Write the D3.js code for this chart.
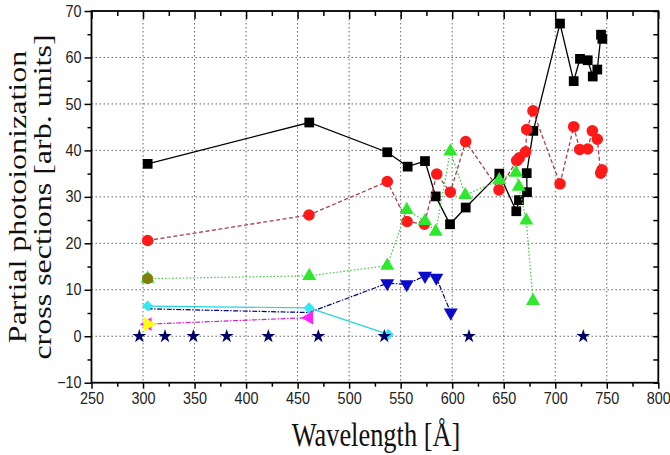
<!DOCTYPE html>
<html>
<head>
<meta charset="utf-8">
<script src="https://cdn.jsdelivr.net/npm/d3@7"></script>
<style>
  body { margin: 0; background: #fff; }
  svg { display: block; }
</style>
</head>
<body>
<svg id="chart" width="670" height="455"></svg>
<script>
// ---- axis ticks ----
const xTicks = [250, 300, 350, 400, 450, 500, 550, 600, 650, 700, 750, 800];
const yTicks = [-10, 0, 10, 20, 30, 40, 50, 60, 70];

// ---- partial cross sections vs wavelength (Å) ----
const blackX = [304.5, 461.3, 537.0, 556.8, 573.6, 584.0, 597.9, 613.1, 645.7, 662.2, 664.8, 672.6, 672.3, 678.7, 704.6, 717.9, 724.0, 731.5, 736.4, 740.8, 744.4, 745.7];
const blackY = [37.1, 46.0, 39.6, 36.5, 37.7, 30.1, 24.1, 27.7, 35.0, 26.9, 29.3, 31.0, 35.1, 44.2, 67.3, 54.9, 59.7, 59.4, 55.9, 57.4, 64.9, 64.0];

const redX = [304.5, 461.1, 537.0, 556.2, 573.0, 585.0, 598.2, 613.1, 645.4, 662.6, 665.1, 671.3, 672.3, 678.4, 704.6, 717.9, 723.7, 731.5, 736.0, 740.8, 744.1, 745.4];
const redY = [20.6, 26.1, 33.3, 24.7, 24.1, 34.9, 31.0, 41.9, 31.5, 37.8, 38.4, 39.7, 44.5, 48.5, 32.8, 45.1, 40.2, 40.3, 44.2, 42.4, 35.1, 35.8];

const greenX = [304.5, 461.3, 537.0, 555.9, 573.6, 584.0, 598.2, 612.7, 645.7, 661.9, 664.6, 671.9, 678.4];
const greenY = [12.4, 13.0, 15.2, 27.2, 24.8, 22.5, 39.8, 30.4, 33.6, 35.2, 32.2, 24.9, 7.6];

const blueX = [304.5, 461.1, 537.0, 555.9, 573.6, 584.6, 598.6];
const blueY = [5.9, 5.1, 11.4, 11.2, 13.0, 12.6, 5.1];

const cyanX = [304.5, 461.1, 538.0];
const cyanY = [6.5, 6.1, 0.4];

const magentaX = [304.5, 461.1];
const magentaY = [2.6, 4.0];

const oliveX = [304.5];
const oliveY = [12.4];

const yellowX = [304.5];
const yellowY = [2.6];

const starX = [296.4, 321.3, 348.8, 381.2, 421.6, 470.1, 534.1, 616.3, 727.2];
const starY = [0, 0, 0, 0, 0, 0, 0, 0, 0];

// ---- layout ----
const svg = d3.select("#chart");
const plot = { left: 91.5, right: 658.3, top: 11, bottom: 382.7 };

const x = d3.scaleLinear().domain([250, 800]).range([plot.left, plot.right]);
const y = d3.scaleLinear().domain([-10, 70]).range([plot.bottom, plot.top]);

const xMinor = d3.range(275, 800, 50);
const yMinor = d3.range(-5, 70, 10);

// dotted grid at interior major ticks
const grid = svg.append("g").attr("stroke", "#666").attr("stroke-width", 1)
  .attr("stroke-dasharray", "1.5,2.5");
grid.selectAll(".gx").data(xTicks.slice(1, -1)).join("line")
  .attr("x1", d => x(d)).attr("x2", d => x(d))
  .attr("y1", plot.top).attr("y2", plot.bottom);
grid.selectAll(".gy").data(yTicks.slice(1, -1)).join("line")
  .attr("y1", d => y(d)).attr("y2", d => y(d))
  .attr("x1", plot.left).attr("x2", plot.right);

// ---- series ----
const sym = (type, size, rot) => ({ path: d3.symbol().type(type).size(size)(), rot: rot || 0 });

const series = [
  { xs: blackX, ys: blackY, stroke: "#000", dash: null, width: 1.3, fill: "#000", marker: sym(d3.symbolSquare, 95) },
  { xs: redX, ys: redY, stroke: "#a8404c", dash: "4,2.5", width: 1.3, fill: "#ff1a1a", marker: sym(d3.symbolCircle, 105) },
  { xs: greenX, ys: greenY, stroke: "#3cc83c", dash: "1.5,2", width: 1.2, fill: "#2ee82e", marker: sym(d3.symbolTriangle, 85) },
  { xs: blueX, ys: blueY, stroke: "#000080", dash: "5,1.5,1.5,1.5", width: 1.2, fill: "#0a0acc", marker: sym(d3.symbolTriangle, 85, 180), skip: [0, 1] },
  { xs: cyanX, ys: cyanY, stroke: "#22d4e0", dash: null, width: 1.2, fill: "#33e8f2", marker: sym(d3.symbolSquare, 62, 45) },
  { xs: magentaX, ys: magentaY, stroke: "#d020d0", dash: "5,1.5,1.5,1.5", width: 1.2, fill: "#ff22ff", marker: sym(d3.symbolTriangle, 80, -90) },
  { xs: starX, ys: starY, stroke: null, fill: "#000066", marker: sym(d3.symbolStar, 60) },
  { xs: oliveX, ys: oliveY, stroke: null, fill: "#7f7f10", marker: sym(d3.symbolCircle, 100) },
  { xs: yellowX, ys: yellowY, stroke: null, fill: "#ffff10", marker: sym(d3.symbolTriangle, 95, 90) }
];

const line = d3.line().x(d => x(d[0])).y(d => y(d[1]));

series.forEach(s => {
  const pts = s.xs.map((v, i) => [v, s.ys[i]]);
  const g = svg.append("g");
  if (s.stroke) {
    g.append("path").datum(pts).attr("d", line)
      .attr("fill", "none").attr("stroke", s.stroke)
      .attr("stroke-width", s.width)
      .attr("stroke-dasharray", s.dash);
  }
  const skip = s.skip || [];
  g.selectAll("path.m").data(pts.filter((p, i) => !skip.includes(i))).join("path")
    .attr("class", "m")
    .attr("d", s.marker.path)
    .attr("transform", d => `translate(${x(d[0])},${y(d[1])}) rotate(${s.marker.rot})`)
    .attr("fill", s.fill);
});

// ---- frame and axes ----
const axisFont = "'Liberation Sans', Arial, sans-serif";

function styleAxis(g) {
  g.select(".domain").remove();
  g.selectAll("line").attr("stroke", "#000").attr("stroke-width", 1.5);
}

const xAxis = svg.append("g").attr("transform", `translate(0,${plot.bottom})`)
  .call(d3.axisBottom(x).tickValues(xTicks).tickSize(6).tickPadding(4).tickFormat(d3.format("d")))
  .call(styleAxis);
xAxis.selectAll("text").attr("font-family", axisFont).attr("font-size", 16)
  .attr("fill", "#222").attr("transform", "scale(0.9,1)");
svg.append("g").attr("transform", `translate(0,${plot.bottom})`)
  .call(d3.axisBottom(x).tickValues(xMinor).tickSize(4).tickFormat(""))
  .call(styleAxis);

const yAxis = svg.append("g").attr("transform", `translate(${plot.left},0)`)
  .call(d3.axisLeft(y).tickValues(yTicks).tickSize(7).tickPadding(4).tickFormat(d3.format("d")))
  .call(styleAxis);
yAxis.selectAll("text").attr("font-family", axisFont).attr("font-size", 16)
  .attr("fill", "#222").attr("transform", "scale(0.9,1)");
svg.append("g").attr("transform", `translate(${plot.left},0)`)
  .call(d3.axisLeft(y).tickValues(yMinor).tickSize(4).tickFormat(""))
  .call(styleAxis);

// mirrored ticks on top and right, pointing inward
svg.append("g").attr("transform", `translate(0,${plot.top})`)
  .call(d3.axisBottom(x).tickValues(xTicks).tickSize(8).tickFormat(""))
  .call(styleAxis);
svg.append("g").attr("transform", `translate(0,${plot.top})`)
  .call(d3.axisBottom(x).tickValues(xMinor).tickSize(5).tickFormat(""))
  .call(styleAxis);
svg.append("g").attr("transform", `translate(${plot.right},0)`)
  .call(d3.axisRight(y).tickValues(yTicks.concat(yMinor)).tickSize(-5).tickFormat(""))
  .call(styleAxis);

svg.append("rect")
  .attr("x", plot.left).attr("y", plot.top)
  .attr("width", plot.right - plot.left).attr("height", plot.bottom - plot.top)
  .attr("fill", "none").attr("stroke", "#000").attr("stroke-width", 1.8);

// ---- titles ----
const titleFont = "'Liberation Serif', 'Times New Roman', serif";

svg.append("text")
  .attr("transform", "translate(376,446) scale(0.8,1)")
  .attr("text-anchor", "middle").attr("font-family", titleFont).attr("font-size", 33)
  .attr("fill", "#111").text("Wavelength [Å]");

const yTitleLines = ["Partial photoionization", "cross sections [arb. units]"];
const yTitleX = [26, 51];
yTitleLines.forEach((t, i) => {
  svg.append("text")
    .attr("transform", `translate(${yTitleX[i]},197) scale(0.8,1) rotate(-90)`)
    .attr("text-anchor", "middle").attr("font-family", titleFont).attr("font-size", 32)
    .attr("fill", "#111").text(t);
});
</script>
</body>
</html>
